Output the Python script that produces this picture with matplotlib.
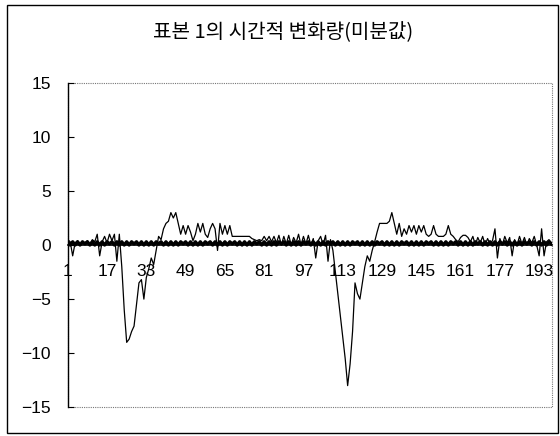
import matplotlib
matplotlib.use("Agg")
import matplotlib.pyplot as plt
from matplotlib.patches import Rectangle

plt.rcParams['font.family'] = ['Liberation Sans', 'Noto Sans CJK KR', 'DejaVu Sans']

title = "표본 1의 시간적 변화량(미분값)"

# derivative of sample 1, one value per frame (1..198)
deriv = [
    0.5, 0.3, -1.0, 0.2, 0.4, 0.0, 0.3, 0.2, 0.4, 0.0,
    0.5, 0.3, 1.0, -1.0, 0.3, 0.8, 0.2, 1.0, 0.4, 1.0,
    -1.5, 1.0, -2.0, -6.0, -9.0, -8.7, -8.0, -7.5, -5.5, -3.5,
    -3.2, -5.0, -3.0, -2.2, -1.2, -1.8, -0.5, 0.8, 0.5, 1.5,
    2.0, 2.2, 3.0, 2.5, 3.0, 2.0, 1.0, 1.8, 1.0, 1.8,
    1.2, 0.4, 1.0, 2.0, 1.2, 2.0, 1.0, 0.7, 1.5, 2.0,
    1.5, -0.5, 2.0, 1.0, 1.8, 1.0, 1.8, 0.8, 0.8, 0.8,
    0.8, 0.8, 0.8, 0.8, 0.8, 0.6, 0.5, 0.4, 0.5, 0.4,
    0.8, 0.4, 0.8, 0.3, 0.8, 0.2, 0.9, 0.0, 0.8, 0.1,
    0.9, 0.0, 0.7, 0.2, 1.0, 0.0, 0.8, 0.1, 0.9, 0.0,
    0.6, -1.2, 0.4, 0.8, 0.0, 0.9, -1.5, 0.5, -0.5, -2.5,
    -4.5, -6.5, -8.5, -10.5, -13.0, -11.0, -8.0, -3.5, -4.5, -5.0,
    -3.5, -2.0, -1.0, -1.5, -0.5, 0.3, 1.2, 2.0, 2.0, 2.0,
    2.0, 2.2, 3.0, 2.0, 1.0, 2.0, 0.8, 1.5, 1.0, 1.8,
    1.2, 1.8, 1.0, 1.8, 1.2, 1.8, 1.0, 0.8, 1.0, 1.8,
    1.0, 0.8, 0.8, 0.8, 1.0, 1.8, 1.0, 0.8, 0.5, 0.3,
    0.7, 0.9, 0.9, 0.7, 0.3, 0.8, 0.0, 0.7, 0.2, 0.8,
    0.0, 0.6, 0.1, 0.4, 1.5, -1.2, 0.6, 0.0, 0.8, 0.2,
    0.7, -1.0, 0.5, 0.0, 0.8, 0.1, 0.7, 0.0, 0.6, 0.2,
    0.8, 0.0, -1.0, 1.5, -1.0, 0.3, 0.5, 0.2,
]

# second (baseline) series, small values hugging zero
base = [
    0.3, 0.0, 0.3, 0.0, 0.3, 0.0, 0.3, 0.1, 0.3, 0.0,
    0.3, 0.0, 0.3, 0.0, 0.3, 0.0, 0.3, 0.1, 0.3, 0.0,
    0.3, 0.0, 0.3, 0.0, 0.3, 0.0, 0.3, 0.1, 0.3, 0.0,
    0.3, 0.0, 0.3, 0.0, 0.3, 0.0, 0.3, 0.1, 0.3, 0.0,
    0.3, 0.0, 0.3, 0.0, 0.3, 0.0, 0.3, 0.1, 0.3, 0.0,
    0.3, 0.0, 0.3, 0.0, 0.3, 0.0, 0.3, 0.1, 0.3, 0.0,
    0.3, 0.0, 0.3, 0.0, 0.3, 0.0, 0.3, 0.1, 0.3, 0.0,
    0.3, 0.0, 0.3, 0.0, 0.3, 0.0, 0.3, 0.1, 0.3, 0.0,
    0.3, 0.0, 0.3, 0.0, 0.3, 0.0, 0.3, 0.1, 0.3, 0.0,
    0.3, 0.0, 0.3, 0.0, 0.3, 0.0, 0.3, 0.1, 0.3, 0.0,
    0.3, 0.0, 0.3, 0.0, 0.3, 0.0, 0.3, 0.1, 0.3, 0.0,
    0.3, 0.0, 0.3, 0.0, 0.3, 0.0, 0.3, 0.1, 0.3, 0.0,
    0.3, 0.0, 0.3, 0.0, 0.3, 0.0, 0.3, 0.1, 0.3, 0.0,
    0.3, 0.0, 0.3, 0.0, 0.3, 0.0, 0.3, 0.1, 0.3, 0.0,
    0.3, 0.0, 0.3, 0.0, 0.3, 0.0, 0.3, 0.1, 0.3, 0.0,
    0.3, 0.0, 0.3, 0.0, 0.3, 0.0, 0.3, 0.1, 0.3, 0.0,
    0.3, 0.0, 0.3, 0.0, 0.3, 0.0, 0.3, 0.1, 0.3, 0.0,
    0.3, 0.0, 0.3, 0.0, 0.3, 0.0, 0.3, 0.1, 0.3, 0.0,
    0.3, 0.0, 0.3, 0.0, 0.3, 0.0, 0.3, 0.1, 0.3, 0.0,
    0.3, 0.0, 0.3, 0.0, 0.3, 0.0, 0.3, 0.1,
]

frames = list(range(1, len(deriv) + 1))
xtick_vals = list(range(1, 194, 16))
ytick_vals = [-15, -10, -5, 0, 5, 10, 15]

fig = plt.figure(figsize=(5.6, 4.36), dpi=100)
# outer chart frame
fig.patches.append(Rectangle((0.012, 0.008), 0.985, 0.98, transform=fig.transFigure,
                             fill=False, edgecolor='black', linewidth=1.0))
fig.text(0.505, 0.925, title, ha='center', va='center', fontsize=14.5,
         family=['Noto Sans CJK KR', 'DejaVu Sans'])

ax = fig.add_axes([0.121, 0.066, 0.865, 0.744])
ax.plot(frames, base, color='black', linewidth=2.4)
ax.plot(frames, deriv, color='black', linewidth=0.9)

ax.set_xlim(1, 198.3)
ax.set_ylim(-15, 15)
ax.set_yticks(ytick_vals)
ax.set_xticks(xtick_vals)
ax.set_xticklabels([str(v) for v in xtick_vals])

# dotted plot area border
ax.add_patch(Rectangle((0, 0), 1, 1, transform=ax.transAxes, fill=False,
                       edgecolor='#777777', linestyle=(0, (1, 1)), linewidth=0.8,
                       clip_on=False))
for s in ['top', 'right']:
    ax.spines[s].set_visible(False)
ax.spines['left'].set_linewidth(1.0)
ax.spines['bottom'].set_position(('data', 0))
ax.spines['bottom'].set_linewidth(1.2)

ax.tick_params(axis='y', direction='in', length=4, labelsize=12.5, pad=12)
ax.tick_params(axis='x', length=0, labelsize=12.5, pad=14)

fig.savefig('out.png', dpi=100)
